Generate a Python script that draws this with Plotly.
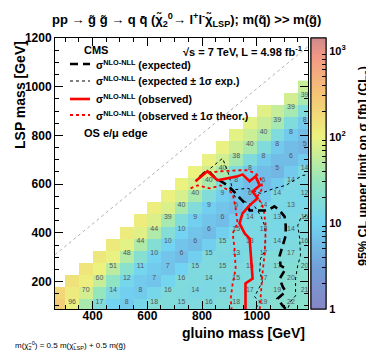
import plotly.graph_objects as go
import numpy as np

# ---------------- data ----------------
mg_centers = [275, 325, 375, 425, 475, 525, 575, 625, 675, 725, 775, 825, 875, 925, 975, 1025, 1075, 1125, 1175]
mlsp_centers = [100, 150, 200, 250, 300, 350, 400, 450, 500, 550, 600, 650, 700, 750, 800, 850, 900, 950, 1000]
# filled cells of each row (right-aligned to the last gluino-mass column), upper limit in fb
row_100 = [250, 96, 40, 17, 10, 8, 12, 18, 16, 15, 15, 16, 17, 18, 18, 19, 20, 22, 22]
row_150 = [200, 120, 70, 30, 14, 9, 8, 12, 16, 15, 14, 14, 15, 16, 17, 18, 19, 20, 21]
row_200 = [150, 110, 60, 26, 12, 8, 7, 11, 16, 15, 14, 14, 15, 16, 17, 18, 20, 21]
row_250 = [140, 100, 51, 22, 11, 8, 7, 10, 15, 15, 15, 15, 15, 16, 17, 19, 20]
row_300 = [130, 95, 48, 20, 10, 7, 6, 9, 15, 14, 13, 15, 17, 17, 17, 18]
row_350 = [125, 90, 44, 19, 10, 7, 6, 9, 15, 14, 13, 13, 14, 15, 16]
row_400 = [120, 85, 44, 18, 10, 7, 6, 9, 15, 14, 13, 13, 14, 15]
row_450 = [115, 80, 39, 17, 9, 7, 6, 9, 14, 14, 13, 14, 15]
row_500 = [110, 78, 40, 17, 9, 7, 6, 8, 14, 13, 13, 13]
row_550 = [105, 75, 40, 17, 9, 7, 6, 8, 14, 13, 12]
row_600 = [100, 72, 40, 16, 8, 6, 6, 8, 14, 13]
row_650 = [100, 70, 40, 16, 8, 6, 5, 8, 14]
row_700 = [95, 68, 38, 16, 8, 6, 6, 8]
row_750 = [95, 66, 40, 16, 8, 6, 5]
row_800 = [90, 65, 40, 16, 8, 6]
row_850 = [90, 62, 39, 16, 8]
row_900 = [85, 60, 39, 16]
row_950 = [70, 39]
row_1000 = [60]
rows = [row_100, row_150, row_200, row_250, row_300, row_350, row_400, row_450, row_500, row_550,
        row_600, row_650, row_700, row_750, row_800, row_850, row_900, row_950, row_1000]

# exclusion contours (gluino mass, LSP mass) in GeV
exp_mg = [791, 820, 846, 894, 923, 948, 967, 974, 1011, 1040, 1065, 1084, 1102, 1106, 1106, 1095, 1084, 1087, 1106, 1084, 1095, 1106, 1076, 1095, 1106]
exp_mlsp = [628, 657, 628, 595, 562, 533, 509, 492, 492, 492, 509, 492, 467, 430, 389, 348, 307, 266, 253, 212, 179, 159, 130, 101, 87.5]
expm_mg = [831, 875, 894, 905, 912, 919, 956, 992, 1014, 1029, 1032, 1029, 1029, 1014, 1011, 1021, 1003, 992, 1011, 996]
expm_mlsp = [665, 706, 653, 612, 583, 550, 529, 509, 472, 430, 389, 336, 323, 295, 241, 200, 159, 138, 118, 87.5]
expp_mg = [900, 967, 1014, 1065, 1106, 1168, 1200, 1200, 1160, 1150, 1157, 1160, 1150, 1142, 1142, 1124, 1113]
expp_mlsp = [575, 583, 562, 583, 595, 636, 640, 480, 459, 430, 377, 307, 266, 212, 142, 118, 87.5]
obs_mg = [776, 820, 857, 930, 948, 974, 996, 1011, 985, 1003, 974, 948, 937, 956, 974, 985, 959, 959]
obs_mlsp = [612, 653, 616, 632, 640, 612, 632, 595, 570, 542, 513, 480, 439, 398, 377, 212, 192, 87.5]
obsm_mg = [758, 784, 828, 868, 912, 923, 930, 912, 919, 923, 912, 905, 908]
obsm_mlsp = [583, 595, 583, 595, 562, 500, 439, 398, 336, 253, 192, 130, 87.5]
obsp_mg = [802, 868, 937, 967, 996, 1014, 1021, 1003, 1025, 1032, 1032, 1029, 1021, 1014, 1011]
obsp_mlsp = [644, 653, 657, 657, 644, 624, 583, 550, 500, 439, 377, 315, 233, 151, 87.5]
diag_mg = [262.5, 1187.5]
diag_mlsp = [310, 1165]

xticks = [400, 600, 800, 1000]
yticks = [200, 400, 600, 800, 1000, 1200]
cb_ticks = [1, 10, 100, 1000]
cb_labels = ["1", "10", "10<sup>2</sup>", "10<sup>3</sup>"]

# ---------------- build grid ----------------
ncol = len(mg_centers)
Z = []
for r in rows:
    Z.append([None] * (ncol - len(r)) + list(r))
Zlog = [[(np.log10(v) if v is not None else None) for v in r] for r in Z]

# labels on a checkerboard along the scan points
lab_x, lab_y, lab_t = [], [], []
for i, my in enumerate(mlsp_centers):
    for j, mx in enumerate(mg_centers):
        v = Z[i][j]
        if v is None:
            continue
        if (i + j) % 2 == 1 and mx - my >= 225:
            lab_x.append(mx); lab_y.append(my); lab_t.append(str(v))

colorscale = [
    [0.00, "#8686c6"],
    [0.15, "#739fd8"],
    [0.32, "#72d4f2"],
    [0.47, "#94e6bd"],
    [0.635, "#ecf27e"],
    [0.79, "#f5c575"],
    [0.93, "#f49885"],
    [1.00, "#cf8a8a"],
]
ZMIN, ZMAX = 0, 3.15

FONT = "Liberation Sans, Arial, sans-serif"
fig = go.Figure()

minor_vals = []
for d in range(0, 4):
    for k in range(2, 10):
        v = k * 10 ** d
        if v < 1400:
            minor_vals.append(float(np.log10(v)))
cb_vals = [float(np.log10(v)) for v in cb_ticks]

cb_common = dict(x=1.012, xanchor="left", y=0, yanchor="bottom", len=1, lenmode="fraction",
                 thickness=15, thicknessmode="pixels", xpad=0, ypad=0,
                 outlinewidth=1, outlinecolor="black", ticks="inside", tickcolor="black",
                 tickfont=dict(size=11, family=FONT, color="black"))

fig.add_trace(go.Heatmap(
    x=mg_centers, y=mlsp_centers, z=Zlog, zmin=ZMIN, zmax=ZMAX,
    colorscale=colorscale, hoverinfo="skip",
    colorbar=dict(tickvals=cb_vals, ticktext=["<b>" + t + "</b>" for t in cb_labels], ticklen=8, **cb_common),
))
# second scale only to carry the minor (log) ticks of the colour bar
fig.add_trace(go.Scatter(
    x=[None], y=[None], mode="markers", showlegend=False, hoverinfo="skip",
    marker=dict(color=[ZMIN], cmin=ZMIN, cmax=ZMAX, colorscale=colorscale, showscale=True,
                colorbar=dict(tickvals=minor_vals, showticklabels=False, ticklen=4, **cb_common)),
))

fig.add_trace(go.Scatter(x=lab_x, y=lab_y, mode="text", text=lab_t,
                         textfont=dict(size=7, color="#555555", family=FONT),
                         textposition="top center", hoverinfo="skip", showlegend=False))

fig.add_trace(go.Scatter(x=diag_mg, y=diag_mlsp, mode="lines",
                         line=dict(color="#b0b0b0", width=1, dash="dot"), showlegend=False))

def contour(x, y, color, width, dash):
    fig.add_trace(go.Scatter(x=x, y=y, mode="lines", line=dict(color=color, width=width, dash=dash),
                             showlegend=False, hoverinfo="skip"))

contour(expm_mg, expm_mlsp, "black", 1, "dot")
contour(expp_mg, expp_mlsp, "black", 1, "dot")
contour(obsm_mg, obsm_mlsp, "red", 1.8, "dot")
contour(obsp_mg, obsp_mlsp, "red", 1.8, "dot")
contour(exp_mg, exp_mlsp, "black", 2.6, "8px,5px")
contour(obs_mg, obs_mlsp, "red", 2.6, "solid")

# ---------------- layout ----------------
L, R, T, B = 47, 74, 30, 50
W, H = 374, 351
pw, ph = W - L - R, H - T - B
def px(x):
    return (x - L) / pw
def py(y):
    return (H - B - y) / ph

axis_common = dict(showline=True, linecolor="black", linewidth=1, mirror="ticks", ticks="inside",
                   ticklen=8, tickcolor="black", showgrid=False, zeroline=False,
                   tickfont=dict(size=12, family=FONT, color="black"),
                   minor=dict(ticks="inside", ticklen=4, dtick=50, tickcolor="black"))
fig.update_layout(
    width=W, height=H, margin=dict(l=L, r=R, t=T, b=B),
    paper_bgcolor="white", plot_bgcolor="white",
    xaxis=dict(range=[262.5, 1187.5], tickvals=xticks, ticktext=["<b>%d</b>" % v for v in xticks],
               ticklabelstandoff=-4, **axis_common),
    yaxis=dict(range=[87.5, 1200], tickvals=yticks, ticktext=["<b>%d</b>" % v for v in yticks], **axis_common),
    showlegend=False,
    font=dict(family=FONT, color="black"),
)

ann = []
def text(x, y, s, size, xanchor="left", yanchor="middle", angle=0):
    ann.append(dict(x=px(x), y=py(y), xref="paper", yref="paper", text=s, showarrow=False,
                    xanchor=xanchor, yanchor=yanchor, textangle=angle,
                    font=dict(size=size, family=FONT, color="black")))

text(178, 12, "<b>pp → g̃ g̃ → q q̄ (χ̃<sub>2</sub><sup>0</sup>→ l<sup>+</sup>l<sup>-</sup>χ̃<sub>LSP</sub>); m(q̃) >> m(g̃)</b>", 13, "center")
text(12, 31, "<b>LSP mass [GeV]</b>", 14, "center", "top", -90)
text(299, 325, "<b>gluino mass [GeV]</b>", 14, "right")
text(356, 158, "<b>95% CL upper limit on σ [fb] (CL<sub>s</sub>)</b>", 12.5, "center", "middle", -90)
text(5, 337, "m(χ̃<sub>2</sub><sup>0</sup>) = 0.5 m(χ̃<sub>LSP</sub>) + 0.5 m(g̃)", 8)
text(74, 42, "<b>CMS</b>", 11)
text(297, 43, "<b>√s = 7 TeV, L = 4.98 fb<sup>-1</sup></b>", 11, "right")
leg = [("(expected)", "black", 2.6, "8px,5px", 56),
       ("(expected ± 1σ exp.)", "black", 1, "dot", 73),
       ("(observed)", "red", 2.6, "solid", 91),
       ("(observed ± 1σ theor.)", "red", 1.8, "dot", 107)]
shapes = []
for lab, c, w, d, y in leg:
    shapes.append(dict(type="line", xref="paper", yref="paper", x0=px(62), x1=px(82), y0=py(y), y1=py(y),
                       line=dict(color=c, width=w, dash=d)))
    text(86, y, "<b>σ<sup>NLO-NLL</sup> " + lab + "</b>", 10.5)
text(74, 125, "<b>OS e/μ edge</b>", 11)
fig.update_layout(annotations=ann, shapes=shapes)

fig.write_html("out.html")
